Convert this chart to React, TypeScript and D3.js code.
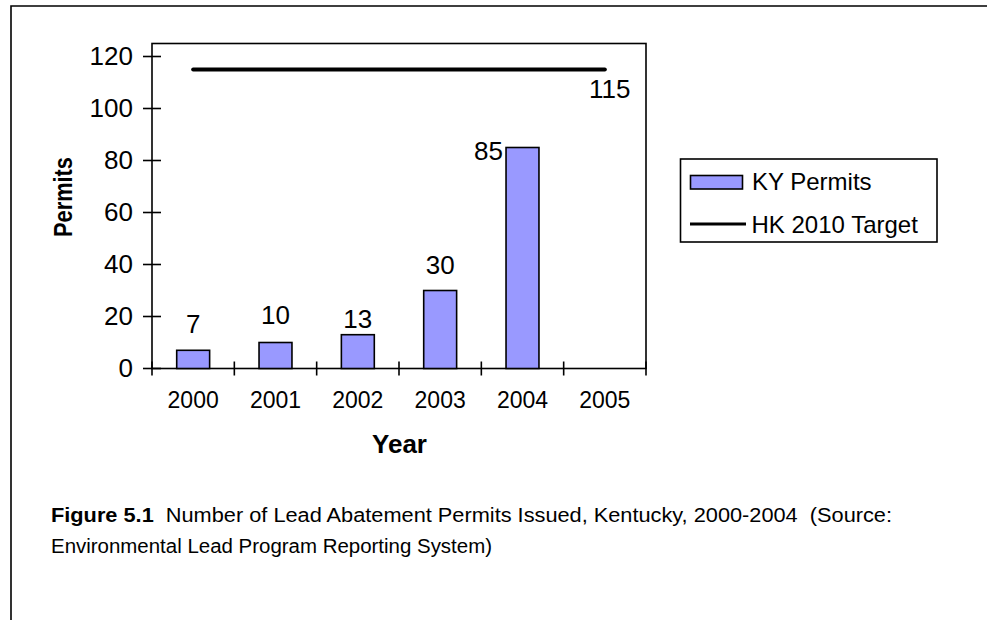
import * as d3 from "d3"

// chart data
const years = ["2000", "2001", "2002", "2003", "2004", "2005"]
const permitYears = ["2000", "2001", "2002", "2003", "2004"]
const permits = [7, 10, 13, 30, 85]
const targetValues = [115, 115, 115, 115, 115, 115]
const yTicks = [0, 20, 40, 60, 80, 100, 120]

// Excel placed some value labels a bit off the default spot
const labelNudge = [
  [0, 0],
  [0, -2],
  [0, 10],
  [0, 0],
  [-34, 29],
]

const W = 987
const H = 620
const font = "'Liberation Sans', Arial, sans-serif"

export default function App() {
  const left = 152
  const right = 646
  const bottom = 368.5
  const top = 43.5

  const x = d3.scaleBand<string>().domain(years).range([left, right]).paddingInner(0.6).paddingOuter(0.3)
  const y = d3.scaleLinear().domain([0, 125]).range([bottom, top])
  const step = x.step()
  const cx = (d: string) => (x(d) as number) + x.bandwidth() / 2

  const line = d3
    .line<number>()
    .x((_, i) => cx(years[i]))
    .y((d) => y(d))

  const lastYear = years[years.length - 1]
  const lastTarget = targetValues[targetValues.length - 1]

  return (
    <svg
      width={W}
      height={H}
      style={{ position: "absolute", left: 0, top: 0, background: "#fff" }}
      fontFamily={font}
    >
      {/* outer frame */}
      <path d={`M11,${H} L11,6 L${W},6`} fill="none" stroke="#000" strokeWidth={1.6} />

      {/* plot box */}
      <rect x={left} y={top} width={right - left} height={bottom - top} fill="none" stroke="#000" strokeWidth={1.6} />

      {/* y axis ticks */}
      {yTicks.map((t) => (
        <g key={t}>
          <line x1={143} x2={161} y1={y(t)} y2={y(t)} stroke="#000" strokeWidth={1.6} />
          <text x={133} y={y(t)} dy="0.33em" textAnchor="end" fontSize={26}>
            {t}
          </text>
        </g>
      ))}

      {/* x axis ticks and labels */}
      {d3.range(years.length + 1).map((i) => (
        <line
          key={i}
          x1={left + i * step}
          x2={left + i * step}
          y1={bottom - 7}
          y2={bottom + 7}
          stroke="#000"
          strokeWidth={1.6}
        />
      ))}
      {years.map((yr) => (
        <text key={yr} x={cx(yr)} y={bottom + 39} textAnchor="middle" fontSize={23}>
          {yr}
        </text>
      ))}

      {/* bars */}
      {permits.map((v, i) => (
        <rect
          key={permitYears[i]}
          x={x(permitYears[i])}
          y={y(v)}
          width={x.bandwidth()}
          height={bottom - y(v)}
          fill="#9999FF"
          stroke="#000"
          strokeWidth={1.6}
        />
      ))}
      {permits.map((v, i) => (
        <text
          key={"l" + i}
          x={cx(permitYears[i]) + labelNudge[i][0]}
          y={y(v) - 17 + labelNudge[i][1]}
          textAnchor="middle"
          fontSize={26}
        >
          {v}
        </text>
      ))}

      {/* target line */}
      <path d={line(targetValues) ?? ""} fill="none" stroke="#000" strokeWidth={4} strokeLinecap="round" />
      <text x={cx(lastYear) + 5} y={y(lastTarget) + 28} textAnchor="middle" fontSize={26}>
        {lastTarget}
      </text>

      {/* axis titles */}
      <text
        transform="translate(71.5,197) rotate(-90)"
        textAnchor="middle"
        fontSize={25}
        fontWeight="bold"
        textLength={80}
        lengthAdjust="spacingAndGlyphs"
      >
        Permits
      </text>
      <text x={399.5} y={453} textAnchor="middle" fontSize={26} fontWeight="bold">
        Year
      </text>

      {/* legend */}
      <rect x={680.5} y={159} width={256.5} height={83} fill="#fff" stroke="#000" strokeWidth={1.6} />
      <rect x={690.5} y={175.5} width={52} height={13.5} fill="#9999FF" stroke="#000" strokeWidth={1.6} />
      <text x={752} y={190} fontSize={24}>
        KY Permits
      </text>
      <line x1={690} x2={746} y1={224} y2={224} stroke="#000" strokeWidth={3} />
      <text x={751.5} y={232.5} fontSize={24}>
        HK 2010 Target
      </text>

      {/* caption */}
      <text
        x={51}
        y={522}
        fontSize={19.5}
        textLength={841}
        lengthAdjust="spacingAndGlyphs"
        style={{ whiteSpace: "pre" }}
      >
        <tspan fontWeight="bold">Figure 5.1</tspan>
        {"  Number of Lead Abatement Permits Issued, Kentucky, 2000-2004  (Source:"}
      </text>
      <text x={51} y={552.5} fontSize={19.5} textLength={441} lengthAdjust="spacingAndGlyphs">
        Environmental Lead Program Reporting System)
      </text>
    </svg>
  )
}
